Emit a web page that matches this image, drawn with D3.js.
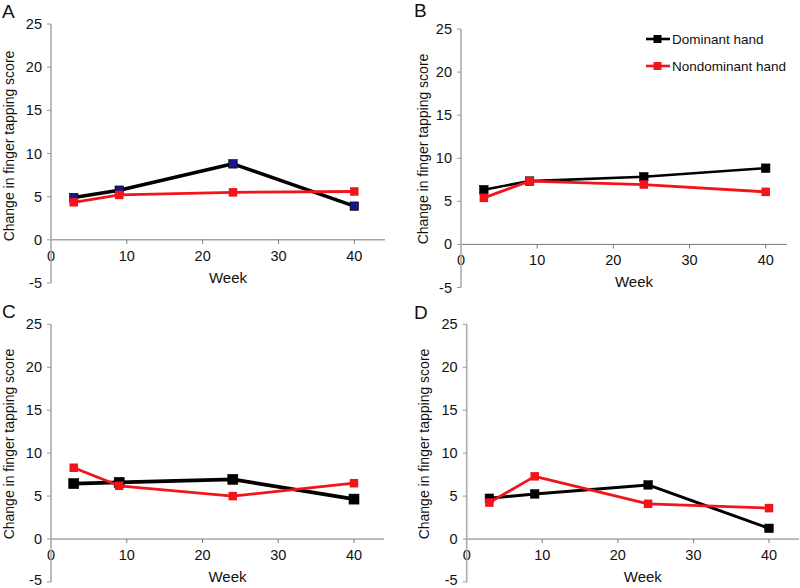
<!DOCTYPE html>
<html>
<head>
<meta charset="utf-8">
<script src="https://cdn.jsdelivr.net/npm/d3@7"></script>
<style>
html,body{margin:0;padding:0;background:#fff;}
svg{display:block;font-family:"Liberation Sans",Arial,sans-serif;}
</style>
</head>
<body>
<svg id="chart" width="800" height="588"></svg>
<script>
// ---- data ----
const weeks = [3, 9, 24, 40];
const panelLabels = ["A", "B", "C", "D"];
const seriesNames = ["Dominant hand", "Nondominant hand"];
const dominantA = [4.9, 5.75, 8.8, 3.9];
const nondominantA = [4.35, 5.2, 5.5, 5.6];
const dominantB = [6.35, 7.35, 7.85, 8.85];
const nondominantB = [5.4, 7.35, 6.95, 6.1];
const dominantC = [6.45, 6.6, 6.95, 4.65];
const nondominantC = [8.3, 6.2, 5.0, 6.5];
const dominantD = [4.75, 5.25, 6.3, 1.25];
const nondominantD = [4.25, 7.3, 4.1, 3.6];
const yTicks = [-5, 0, 5, 10, 15, 20, 25];
const xTicks = [0, 10, 20, 30, 40];
const yTitle = "Change in finger tapping score";
const xTitle = "Week";

// ---- layout (pixel geometry per panel) ----
const panels = [
  {label: panelLabels[0], dom: dominantA, non: nondominantA, x0: 51, x40: 354.3, xEnd: 385, y25: 24, ym5: 283,
   domMarker: "#16168a", domWidth: 3.6, domSize: 8.5, lx: 9, ly: 146, letter: [2, 18], legend: false},
  {label: panelLabels[1], dom: dominantB, non: nondominantB, x0: 461, x40: 765.7, xEnd: 787, y25: 29, ym5: 287.5,
   domMarker: "#000", domWidth: 2.6, domSize: 8.5, lx: 423, ly: 149, letter: [414, 17], legend: true},
  {label: panelLabels[2], dom: dominantC, non: nondominantC, x0: 51, x40: 354, xEnd: 384, y25: 324.3, ym5: 582,
   domMarker: "#000", domWidth: 3.6, domSize: 10, lx: 9, ly: 444, letter: [2, 318], legend: false},
  {label: panelLabels[3], dom: dominantD, non: nondominantD, x0: 466.7, x40: 769, xEnd: 799, y25: 324.3, ym5: 582,
   domMarker: "#000", domWidth: 3.0, domSize: 8.5, lx: 424, ly: 444, letter: [414, 319], legend: false}
];

const RED = "#f2141b";
const svg = d3.select("#chart");

panels.forEach(p => {
  const x = d3.scaleLinear().domain([0, 40]).range([p.x0, p.x40]);
  const y = d3.scaleLinear().domain([-5, 25]).range([p.ym5, p.y25]);
  const g = svg.append("g");
  const y0 = y(0);

  g.append("text").attr("x", p.letter[0]).attr("y", p.letter[1])
    .attr("font-size", 19).attr("fill", "#111").text(p.label);

  g.append("line").attr("x1", p.x0).attr("x2", p.xEnd).attr("y1", y0).attr("y2", y0)
    .attr("stroke", "#7a7a7a").attr("stroke-width", 1);
  const xt = g.selectAll(".xt").data(xTicks).enter().append("g");
  xt.filter(d => d !== 0).append("line")
    .attr("x1", d => x(d)).attr("x2", d => x(d)).attr("y1", y0).attr("y2", y0 + 4)
    .attr("stroke", "#7a7a7a").attr("stroke-width", 1);
  xt.append("text").attr("x", d => x(d)).attr("y", y0 + 21)
    .attr("text-anchor", "middle").attr("font-size", 14.5).attr("fill", "#111").text(d => d);

  g.append("line").attr("x1", p.x0).attr("x2", p.x0).attr("y1", y(25)).attr("y2", y(-5))
    .attr("stroke", "#ababab").attr("stroke-width", 1.6);
  const yt = g.selectAll(".yt").data(yTicks).enter().append("g");
  yt.append("line").attr("x1", p.x0 - 4).attr("x2", p.x0).attr("y1", d => y(d)).attr("y2", d => y(d))
    .attr("stroke", "#9a9a9a").attr("stroke-width", 1);
  yt.append("text").attr("x", p.x0 - 9).attr("y", d => Math.min(y(d) + 5, 585))
    .attr("text-anchor", "end").attr("font-size", 14.5).attr("fill", "#111").text(d => d);

  g.append("text").attr("transform", `translate(${p.lx + 5},${p.ly}) rotate(-90)`)
    .attr("text-anchor", "middle").attr("font-size", 14).attr("fill", "#111").text(yTitle);
  g.append("text").attr("x", (p.x0 + p.xEnd) / 2 + 10).attr("y", y0 + 43)
    .attr("text-anchor", "middle").attr("font-size", 15).attr("fill", "#111").text(xTitle);

  const line = d3.line().x((d, i) => x(weeks[i])).y(d => y(d));

  g.append("path").datum(p.dom).attr("d", line).attr("fill", "none")
    .attr("stroke", "#000").attr("stroke-width", p.domWidth).attr("stroke-linejoin", "round");
  g.selectAll(".dm").data(p.dom).enter().append("rect")
    .attr("x", (d, i) => x(weeks[i]) - p.domSize / 2).attr("y", d => y(d) - p.domSize / 2)
    .attr("width", p.domSize).attr("height", p.domSize)
    .attr("fill", p.domMarker).attr("stroke", "#000").attr("stroke-width", 0.6);

  g.append("path").datum(p.non).attr("d", line).attr("fill", "none")
    .attr("stroke", RED).attr("stroke-width", 2.8).attr("stroke-linejoin", "round");
  g.selectAll(".nm").data(p.non).enter().append("rect")
    .attr("x", (d, i) => x(weeks[i]) - 4.25).attr("y", d => y(d) - 4.25)
    .attr("width", 8.5).attr("height", 8.5).attr("fill", RED);

  if (p.legend) {
    const items = [{name: seriesNames[0], color: "#000", yy: 39}, {name: seriesNames[1], color: RED, yy: 66}];
    const lg = g.selectAll(".lg").data(items).enter().append("g");
    lg.append("line").attr("x1", 646).attr("x2", 670).attr("y1", d => d.yy).attr("y2", d => d.yy)
      .attr("stroke", d => d.color).attr("stroke-width", 2.6);
    lg.append("rect").attr("x", 653.5).attr("y", d => d.yy - 4).attr("width", 8).attr("height", 8)
      .attr("fill", d => d.color);
    lg.append("text").attr("x", 672).attr("y", d => d.yy).attr("dy", "0.35em")
      .attr("font-size", 13.5).attr("fill", "#111").text(d => d.name);
  }
});
</script>
</body>
</html>
